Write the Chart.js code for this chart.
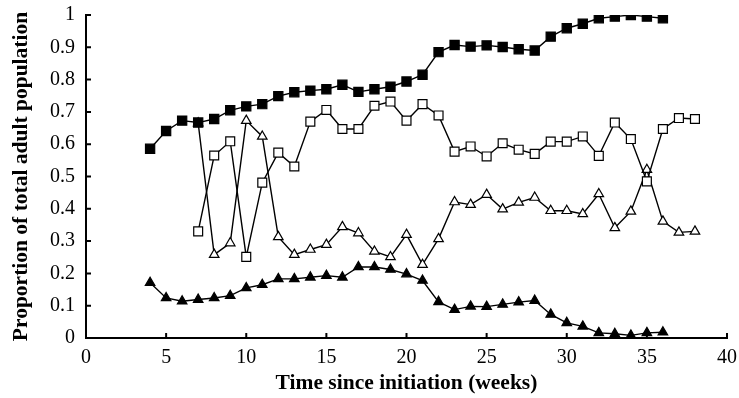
<!DOCTYPE html>
<html><head><meta charset="utf-8">
<script src="https://cdn.jsdelivr.net/npm/chart.js@4/dist/chart.umd.min.js"></script>
<style>html,body{margin:0;padding:0;background:#fff}#wrap{width:739px;height:398px}</style>
</head><body><div id="wrap"><canvas id="c" width="739" height="398"></canvas></div>
<script>
const weeksA = [4,5,6,7,8,9,10,11,12,13,14,15,16,17,18,19,20,21,22,23,24,25,26,27,28,29,30,31,32,33,34,35,36];
const filledSquares = [0.586,0.641,0.673,0.667,0.678,0.705,0.717,0.724,0.749,0.761,0.766,0.770,0.784,0.762,0.770,0.778,0.794,0.815,0.885,0.907,0.902,0.906,0.901,0.894,0.890,0.933,0.959,0.973,0.990,0.995,1.000,0.995,0.990];
const filledTriangles = [0.171,0.124,0.114,0.119,0.124,0.131,0.155,0.165,0.183,0.183,0.188,0.193,0.188,0.220,0.220,0.212,0.198,0.178,0.112,0.088,0.098,0.097,0.104,0.111,0.116,0.073,0.047,0.036,0.016,0.013,0.008,0.016,0.018];
const weeksB = [7,8,9,10,11,12,13,14,15,16,17,18,19,20,21,22,23,24,25,26,27,28,29,30,31,32,33,34,35,36,37,38];
const openSquares = [0.330,0.565,0.609,0.251,0.481,0.574,0.531,0.670,0.706,0.647,0.647,0.719,0.732,0.673,0.724,0.689,0.577,0.593,0.562,0.603,0.583,0.570,0.608,0.608,0.624,0.564,0.667,0.616,0.485,0.647,0.681,0.678];
const openTriangles = [0.665,0.258,0.294,0.673,0.624,0.313,0.258,0.274,0.289,0.344,0.325,0.268,0.251,0.320,0.227,0.307,0.421,0.413,0.444,0.399,0.420,0.435,0.394,0.394,0.384,0.446,0.341,0.392,0.521,0.361,0.327,0.330];
const xTicks = [0,5,10,15,20,25,30,35,40];
const yTicks = [0,0.1,0.2,0.3,0.4,0.5,0.6,0.7,0.8,0.9,1];

const pts = (xs, ys) => xs.map((x,i)=>({x, y: ys[i]}));
const ds = (label, xs, ys, style, fill, r) => ({
  label, data: pts(xs, ys), borderColor:'#000', borderWidth:1.4,
  pointStyle: style, pointRadius: r, pointHoverRadius: r,
  pointBackgroundColor: fill, pointBorderColor:'#000', pointBorderWidth:1.2, tension:0
});

const inwardTicks = {
  id:'inwardTicks',
  afterDraw(chart){
    const {ctx, chartArea:a, scales:{x,y}} = chart;
    ctx.save(); ctx.strokeStyle='#000'; ctx.lineWidth=2;
    ctx.beginPath();
    xTicks.forEach(v=>{const px=x.getPixelForValue(v); ctx.moveTo(px,a.bottom); ctx.lineTo(px,a.bottom-5);});
    yTicks.forEach(v=>{const py=y.getPixelForValue(v); ctx.moveTo(a.left,py); ctx.lineTo(a.left+5,py);});
    ctx.stroke(); ctx.restore();
  }
};

new Chart(document.getElementById('c'), {
  type:'line',
  data:{datasets:[
    ds('Filled squares', weeksA, filledSquares, 'rect', '#000', 6.5),
    ds('Open squares', weeksB, openSquares, 'rect', '#fff', 6.3),
    ds('Open triangles', weeksB, openTriangles, 'triangle', '#fff', 5.5),
    ds('Filled triangles', weeksA, filledTriangles, 'triangle', '#000', 5.5)
  ]},
  options:{
    responsive:false, animation:false,
    layout:{padding:{left:0,right:12,top:15,bottom:0}},
    plugins:{legend:{display:false}, tooltip:{enabled:false}},
    scales:{
      x:{type:'linear', min:0, max:40,
        afterBuildTicks: s => { s.ticks = xTicks.map(v=>({value:v})); },
        afterFit: s => { s.height = 60; s.paddingLeft = 0; s.paddingRight = 0; },
        grid:{display:false, drawTicks:false},
        border:{display:true, color:'#000', width:2},
        ticks:{color:'#000', padding:8, font:{family:'Liberation Serif', size:20}},
        title:{display:true, text:'Time since initiation (weeks)', color:'#000', padding:{top:2,bottom:2}, font:{family:'Liberation Serif', size:21.5, weight:'bold'}}
      },
      y:{min:0, max:1,
        afterBuildTicks: s => { s.ticks = yTicks.map(v=>({value:v})); },
        afterFit: s => { s.width = 86; s.paddingTop = 0; s.paddingBottom = 0; },
        grid:{display:false, drawTicks:false},
        border:{display:true, color:'#000', width:2},
        ticks:{color:'#000', padding:11, font:{family:'Liberation Serif', size:20}, callback: v => String(v)},
        title:{display:true, text:'Proportion of total adult population', color:'#000', padding:{top:9,bottom:9}, font:{family:'Liberation Serif', size:21.5, weight:'bold'}}
      }
    }
  },
  plugins:[inwardTicks]
});
</script></body></html>
